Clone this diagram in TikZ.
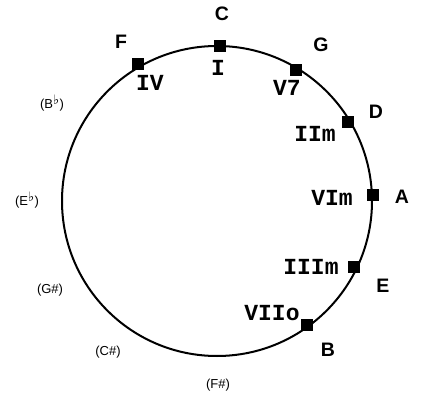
\documentclass[tikz,border=0pt]{standalone}
\usepackage{fontspec}
\setmainfont{Liberation Sans}
\newfontfamily\monof{Liberation Mono}
\newfontfamily\symf{DejaVu Sans}
\begin{document}
\begin{tikzpicture}[x=1pt,y=-1pt,
  keybig/.style={font=\fontsize{19.5}{22}\selectfont\bfseries, inner sep=0pt},
  numer/.style={font=\monof\fontsize{23}{25}\selectfont, inner sep=0pt},
  minor/.style={font=\fontsize{13}{15}\selectfont, inner sep=0pt},
  sqmark/.style={fill=black, minimum size=12pt, inner sep=0pt, draw=none}]
\useasboundingbox (0,0) rectangle (437,401);
\fill[white] (0,0) rectangle (437,401);
\node[circle, draw, line width=2pt, minimum size=310pt, inner sep=0pt] (ring) at (217,201) {};
\node[sqmark] (sC) at (220,46) {};
\node[sqmark] (sF) at (138,64) {};
\node[sqmark] (sG) at (296,70) {};
\node[sqmark] (sD) at (348,122) {};
\node[sqmark] (sA) at (373,195) {};
\node[sqmark] (sE) at (354,267) {};
\node[sqmark] (sB) at (307,325) {};
\node[keybig] (lC) at (222,14) {C};
\node[keybig] (lF) at (121,42) {F};
\node[keybig] (lG) at (321,45) {G};
\node[keybig] (lD) at (376,112) {D};
\node[keybig] (lA) at (402,197) {A};
\node[keybig] (lE) at (383,286) {E};
\node[keybig] (lB) at (328,350) {B};
\node[numer] (nI) at (218,68) {\textbf{I}};
\node[numer] (nIV) at (150,83) {\textbf{IV}};
\node[numer] (nV) at (287,88) {\textbf{V7}};
\node[numer] (nII) at (315,134) {\textbf{IIm}};
\node[numer] (nVI) at (332,198) {\textbf{VIm}};
\node[numer] (nIII) at (311,267) {\textbf{IIIm}};
\node[numer] (nVII) at (272,313) {\textbf{VIIo}};
\node[minor] (mBb) at (52,103) {(B\textsuperscript{\symf\fontsize{13}{15}\selectfont ♭})};
\node[minor] (mEb) at (27,200) {(E\textsuperscript{\symf\fontsize{13}{15}\selectfont ♭})};
\node[minor] (mGs) at (50,290) {(G\#)};
\node[minor] (mCs) at (108,352) {(C\#)};
\node[minor] (mFs) at (218,385) {(F\#)};
\end{tikzpicture}
\end{document}
